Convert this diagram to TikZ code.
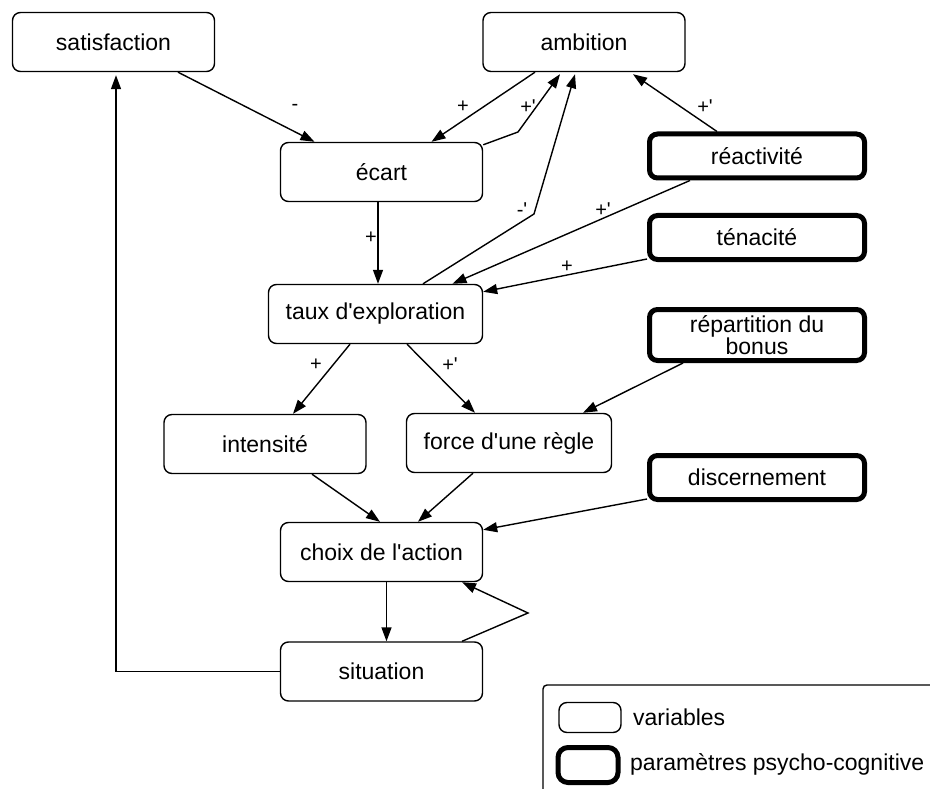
\documentclass[tikz,border=0pt]{standalone}
\usepackage{fontspec}
\newfontfamily\lsans{Liberation Sans}
\usetikzlibrary{arrows.meta}
\begin{document}
\begin{tikzpicture}[x=1pt,y=-1pt,
  var/.style={draw, rounded corners=8pt, line width=1.4pt, minimum width=202pt, minimum height=59pt, inner sep=0pt, font=\lsans\fontsize{23}{22}\selectfont, align=center},
  param/.style={var, line width=5pt, minimum width=215pt, minimum height=44pt},
  conn/.style={line width=1.4pt, -{Triangle[length=14pt,width=10pt]}},
  lbl/.style={font=\lsans\fontsize{20}{20}\selectfont, inner sep=0pt},
  legtext/.style={anchor=west, inner sep=0pt, font=\lsans\fontsize{23}{22}\selectfont}]
\useasboundingbox (0,0) rectangle (930,789);
\fill[white] (0,0) rectangle (930,789);

% nodes
\node[var] (sat) at (113.5,42) {satisfaction};
\node[var] (amb) at (584,42) {ambition};
\node[var] (ecart) at (381.5,172) {écart};
\node[var, minimum width=214pt] (taux) at (375.5,314) {taux d'exploration};
\node[var] (int) at (265,444) {intensité};
\node[var, minimum width=205pt] (force) at (509,443) {force d'une règle};
\node[var] (choix) at (381.5,552) {choix de l'action};
\node[var] (sit) at (381.5,671.5) {situation};
\node[param] (react) at (757,156) {réactivité};
\node[param] (ten) at (757,237.5) {ténacité};
\node[param, minimum height=51pt] (rep) at (757,335) {répartition du\\bonus};
\node[param] (disc) at (757,477.5) {discernement};

% elbow points
\coordinate (e1) at (518,132);
\coordinate (e2) at (534,214);
\coordinate (e3) at (528,613);

% connectors
\draw[conn] ([xshift=64.5pt]sat.south) -- ([xshift=-67pt]ecart.north);
\draw[conn] ([xshift=-49pt]amb.south) -- ([xshift=50pt]ecart.north);
\draw[conn] ([yshift=-3pt]ecart.north east) -- (e1) -- ([xshift=-24pt,yshift=-2pt]amb.south);
\draw[conn] ([xshift=47.5pt]taux.north) -- (e2) -- ([xshift=-9pt,yshift=-2pt]amb.south);
\draw[conn] ([xshift=-40pt]react.north) -- ([xshift=49pt,yshift=-2pt]amb.south);
\draw[conn] ([xshift=-67pt]react.south) -- ([xshift=77pt]taux.north);
\draw[conn] ([yshift=3pt]ten.south west) -- ([yshift=-8pt]taux.north east);
\draw[conn] ([xshift=-3.5pt]ecart.south) -- ([xshift=2.5pt]taux.north);
\draw[conn] ([xshift=-25.5pt]taux.south) -- ([xshift=28pt]int.north);
\draw[conn] ([xshift=31.5pt]taux.south) -- ([xshift=-34pt]force.north);
\draw[conn] ([xshift=-74pt]rep.south) -- ([xshift=74pt]force.north);
\draw[conn] ([xshift=47pt]int.south) -- ([xshift=-1.5pt]choix.north);
\draw[conn] ([xshift=-36pt]force.south) -- ([xshift=36.5pt]choix.north);
\draw[conn] ([yshift=3pt]disc.south west) -- ([yshift=-8pt]choix.north east);
\draw[conn] ([xshift=5pt]choix.south) -- ([xshift=5pt]sit.north);
\draw[conn] ([xshift=80.5pt]sit.north) -- (e3) -- ([xshift=80.5pt]choix.south);
\draw[conn] (sit.west) -| ([xshift=2.5pt,yshift=-3pt]sat.south);

% labels
\node[lbl] (l1) at (295,107) {-};
\node[lbl] (l2) at (463,107) {+};
\node[lbl] (l3) at (528,107) {+'};
\node[lbl] (l4) at (705,107) {+'};
\node[lbl] (l5) at (522,210) {-'};
\node[lbl] (l6) at (603,210) {+'};
\node[lbl] (l7) at (567,267) {+};
\node[lbl] (l8) at (371,238) {+};
\node[lbl] (l9) at (316,365) {+};
\node[lbl] (l10) at (450,365) {+'};

% legend
\draw[line width=1.4pt, rounded corners=4pt] (932,685) -- (543,685) -- (543,792);
\node[var, minimum width=62pt, minimum height=30pt] (lv) at (590,717.5) {};
\node[param, minimum width=60pt, minimum height=35pt, rounded corners=10pt] (lp) at (588,765) {};
\node[legtext] (tv) at (633,717) {variables};
\node[legtext] (tp) at (630,764) {paramètres psycho-cognitive};
\end{tikzpicture}
\end{document}
